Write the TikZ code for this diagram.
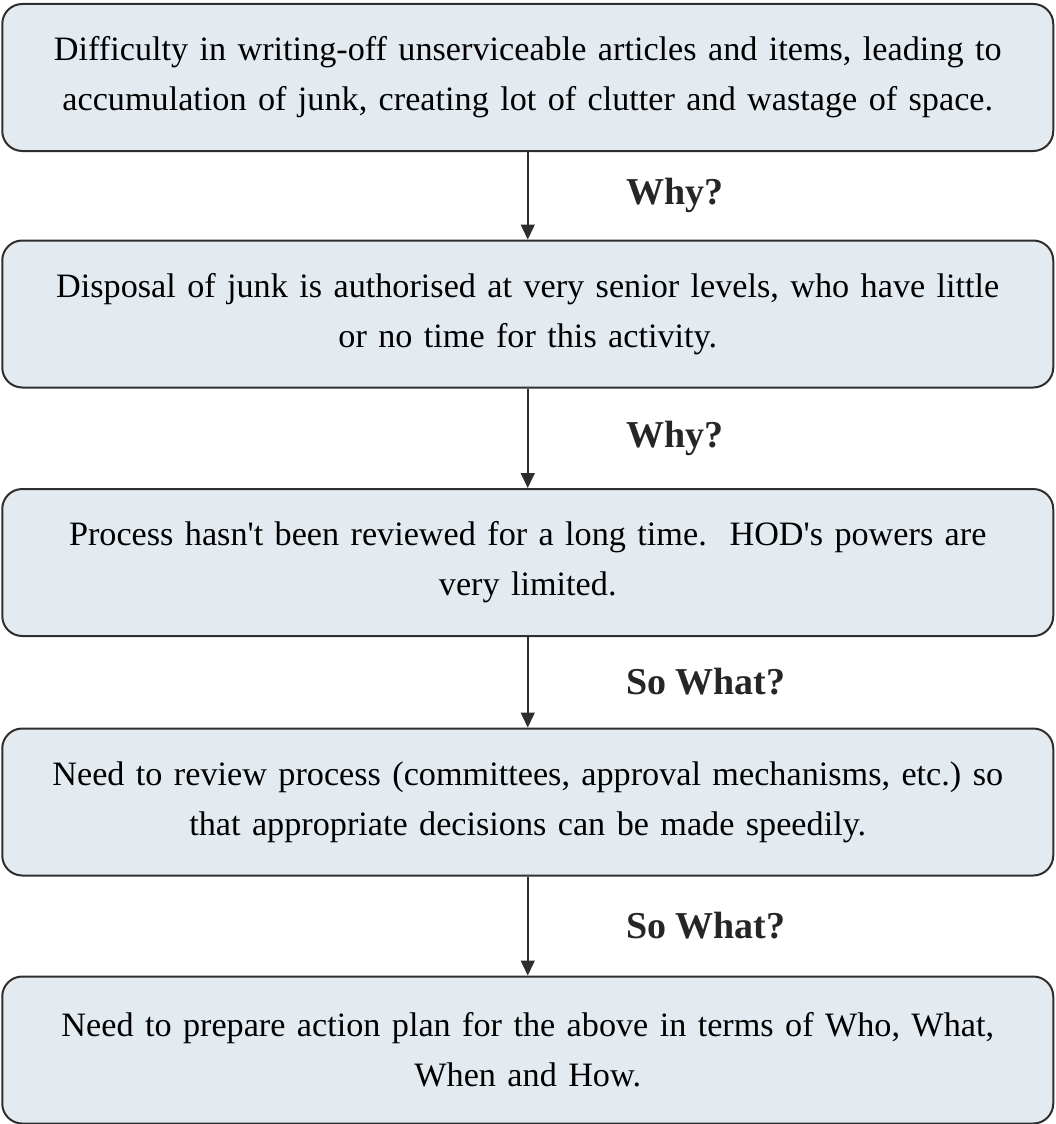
\documentclass[tikz,border=0pt]{standalone}
\usepackage{fontspec}
\setmainfont{Liberation Serif}
\usetikzlibrary{arrows.meta}
\definecolor{boxfill}{HTML}{E3EBF1}
\definecolor{boxline}{HTML}{2E2E2E}
\tikzset{
  stepbox/.style={draw=boxline, line width=2pt, fill=boxfill, rounded corners=20pt,
    minimum width=1051pt, minimum height=147pt, text width=1040pt, align=center,
    font=\fontsize{34.2}{50}\selectfont\frenchspacing, inner sep=0pt},
  flow/.style={draw=boxline, line width=1.6pt, -{Triangle[length=15pt,width=14pt]}},
  asklabel/.style={anchor=west, font=\fontsize{38}{44}\selectfont\bfseries, text=black!85, inner sep=0pt}
}
\begin{document}
\begin{tikzpicture}[x=1pt,y=-1pt]
\useasboundingbox (0,0) rectangle (1055,1124);
\node[stepbox] (b1) at (527.75,77.5) {Difficulty in writing-off unserviceable articles and items, leading to\\accumulation of junk, creating lot of clutter and wastage of space.};
\node[stepbox] (b2) at (527.75,314) {Disposal of junk is authorised at very senior levels, who have little\\or no time for this activity.};
\node[stepbox] (b3) at (527.75,562.5) {Process hasn\textquotesingle t been reviewed for a long time.\ \ HOD\textquotesingle s powers are\\very limited.};
\node[stepbox] (b4) at (527.75,802) {Need to review process (committees, approval mechanisms, etc.) so\\that appropriate decisions can be made speedily.};
\node[stepbox] (b5) at (527.75,1050) {Need to prepare action plan for the above in terms of Who, What,\\When and How.};
\draw[flow] (b1.south) -- (b2.north);
\draw[flow] (b2.south) -- (b3.north);
\draw[flow] (b3.south) -- (b4.north);
\draw[flow] (b4.south) -- (b5.north);
\node[asklabel] (q1) at (626,195.5) {Why?};
\node[asklabel] (q2) at (626,438.5) {Why?};
\node[asklabel] (q3) at (626,682) {So What?};
\node[asklabel] (q4) at (626,926) {So What?};
\end{tikzpicture}
\end{document}
